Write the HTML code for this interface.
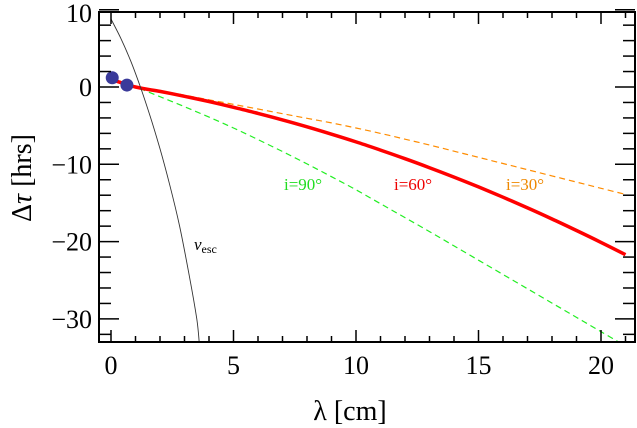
<!DOCTYPE html>
<html><head><meta charset="utf-8"><style>
body{margin:0;background:#fff}
svg{display:block;font-family:"Liberation Serif",serif}
</style></head><body>
<svg id="chart" width="637" height="428" viewBox="0 0 637 428" xmlns="http://www.w3.org/2000/svg">
<g id="plot"></g>
<text x="350" y="420" font-size="28" text-anchor="middle">λ [cm]</text>
<text transform="translate(31,178) rotate(-90)" font-size="28" text-anchor="middle">Δ<tspan font-style="italic">τ</tspan> [hrs]</text>
<text x="284" y="190" font-size="17" fill="#22dd22">i=90°</text>
<text x="394" y="190" font-size="17" fill="#ee0000">i=60°</text>
<text x="506" y="190" font-size="17" fill="#ee8800">i=30°</text>
<text x="194" y="250" font-size="17" font-style="italic">v<tspan font-size="12" font-style="normal" dy="3">esc</tspan></text>
</svg>
<script>
const xTicks=[0,5,10,15,20];
const yTicks=[10,0,-10,-20,-30];
const xLam=[0,1,2,3,4,5,6,7,8,9,10,11,12,13,14,15,16,17,18,19,20,21];
const red=[1.0,0,-0.57,-1.2,-1.88,-2.62,-3.41,-4.25,-5.15,-6.1,-7.1,-8.16,-9.27,-10.44,-11.66,-12.93,-14.26,-15.64,-17.07,-18.56,-20.1,-21.69];
const orange=[1.3,0,-0.5,-1.05,-1.65,-2.25,-2.85,-3.45,-4.05,-4.65,-5.3,-6.0,-6.75,-7.5,-8.3,-9.1,-9.9,-10.7,-11.5,-12.3,-13.1,-13.9];
const green=[1.0,0,-1.25,-2.55,-3.9,-5.3,-6.8,-8.35,-9.95,-11.6,-13.3,-15.1,-16.9,-18.7,-20.55,-22.4,-24.25,-26.1,-27.95,-29.8,-31.65,-33.5];
const vescX=[0,0.4,0.8,1.2,1.6,2.0,2.4,2.8,3.2,3.5,3.6];
const vescY=[8.8,6.3,3.4,0,-3.8,-8,-12.7,-18,-24.5,-30,-33];
const ptsX=[0.05,0.65];
const ptsY=[1.2,0.25];
const X0=99,X1=635,Y0=12,Y1=342;
const xs=v=>111+24.5*v, ys=v=>87-7.73*v;
const NS="http://www.w3.org/2000/svg";
const svg=document.getElementById('chart');
function mk(t,a,p){const e=document.createElementNS(NS,t);for(const k in a)e.setAttribute(k,a[k]);(p||svg).appendChild(e);return e;}
const clip=mk('clipPath',{id:'cp'});mk('rect',{x:X0,y:Y0,width:X1-X0,height:Y1-Y0},clip);
const g=mk('g',{'clip-path':'url(#cp)'});
function line(xa,ya,col,w,dash,name){
const P=xa.map((x,i)=>[xs(x),ys(ya[i])]);
let d='M'+P[0][0].toFixed(1)+','+P[0][1].toFixed(1);
for(let i=0;i<P.length-1;i++){const p0=P[Math.max(i-1,0)],p1=P[i],p2=P[i+1],p3=P[Math.min(i+2,P.length-1)];
const c1=[p1[0]+(p2[0]-p0[0])/6,p1[1]+(p2[1]-p0[1])/6],c2=[p2[0]-(p3[0]-p1[0])/6,p2[1]-(p3[1]-p1[1])/6];
d+='C'+c1.map(v=>v.toFixed(1))+' '+c2.map(v=>v.toFixed(1))+' '+p2.map(v=>v.toFixed(1));}
const p=mk('path',{d:d,fill:'none',stroke:col,'stroke-width':w,'stroke-dasharray':dash||'none'},g);

}
line(xLam,orange,'#ff8c00',1.2,'6,4','series-i30');
line(xLam,green,'#22ee22',1.2,'6,4','series-i90');
line(xLam,red,'#ff0000',3.5,null,'series-i60');
line(vescX,vescY,'#333',0.9,null,'series-vesc');
ptsX.forEach((x,i)=>{const c=mk('circle',{cx:xs(x),cy:ys(ptsY[i]),r:6.5,fill:'#3a3a9a'},g);

});
const f=mk('rect',{x:X0,y:Y0,width:X1-X0,height:Y1-Y0,fill:'none',stroke:'#000','stroke-width':2});


for(let v=0;v<=21;v++){const big=v%5==0,l=big?12:6;
mk('line',{x1:xs(v),x2:xs(v),y1:Y1,y2:Y1-l,stroke:'#000','stroke-width':1.5});
mk('line',{x1:xs(v),x2:xs(v),y1:Y0,y2:Y0+l,stroke:'#000','stroke-width':1.5});}
for(let v=-32;v<=10;v+=2){const big=v%10==0,l=big?20:12;
mk('line',{x1:X0,x2:X0+l,y1:ys(v),y2:ys(v),stroke:'#000','stroke-width':1.5});
mk('line',{x1:X1,x2:X1-l,y1:ys(v),y2:ys(v),stroke:'#000','stroke-width':1.5});}
xTicks.forEach(v=>{const t=mk('text',{x:xs(v),y:374,'font-size':26,'text-anchor':'middle'});t.textContent=v;

});
yTicks.forEach(v=>{const t=mk('text',{x:92,y:Math.max(ys(v)+9,22),'font-size':26,'text-anchor':'end'});t.textContent=v<0?'\u2212'+(-v):v;

});
</script>
</body></html>
